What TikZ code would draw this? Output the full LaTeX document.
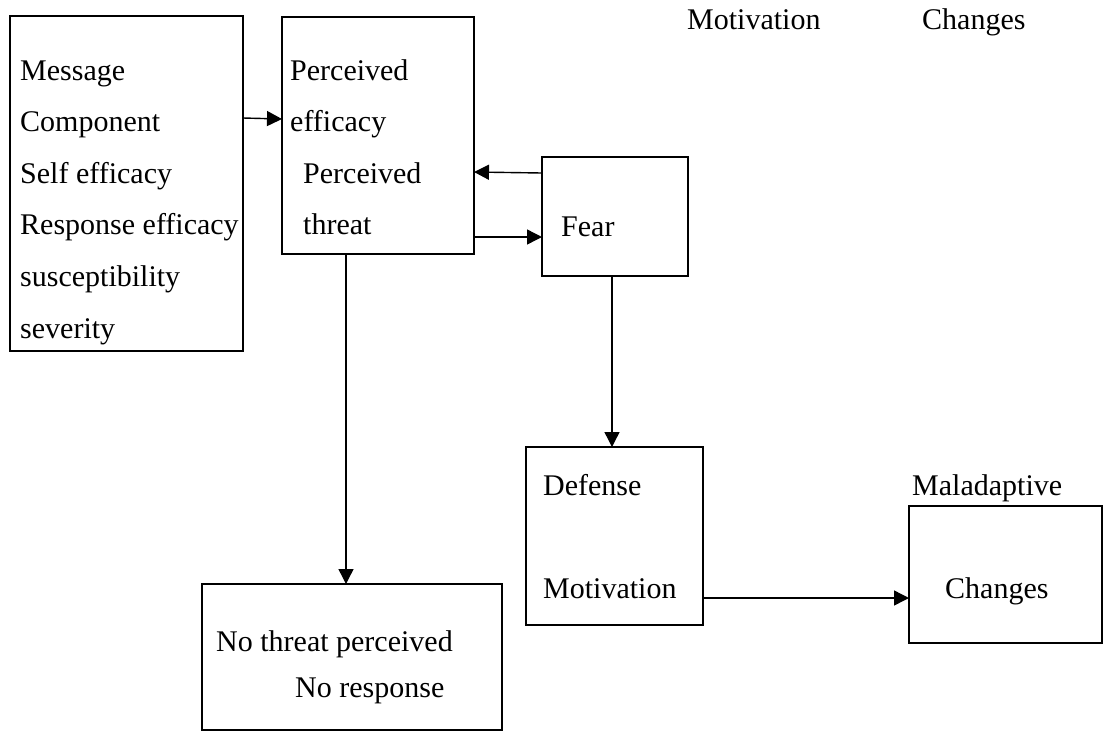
\documentclass[tikz,border=0pt]{standalone}
\usepackage{fontspec}
\setmainfont{Liberation Serif}
\usetikzlibrary{arrows.meta}
\begin{document}
\begin{tikzpicture}[x=1pt,y=-1pt,
  box/.style={draw,line width=1.6pt,inner sep=0pt,outer sep=0pt,rectangle},
  lbl/.style={anchor=base west,inner sep=0pt,font=\fontsize{30}{36}\selectfont},
  conn/.style={line width=1.4pt,-{Triangle[length=15pt,width=15pt]}}]
\useasboundingbox (0,0) rectangle (1109,732);

% boxes
\node[box,minimum width=233pt,minimum height=335pt] (msg) at (126.5,183.5) {};
\node[box,minimum width=192pt,minimum height=237pt] (perc) at (378,135.5) {};
\node[box,minimum width=146pt,minimum height=119pt] (fear) at (615,216.5) {};
\node[box,minimum width=177pt,minimum height=178pt] (def) at (614.5,536) {};
\node[box,minimum width=193pt,minimum height=137pt] (chg) at (1005.5,574.5) {};
\node[box,minimum width=300pt,minimum height=146pt] (none) at (352,657) {};

% message components
\node[lbl] (m1) at (20,80) {Message};
\node[lbl] (m2) at (20,131.6) {Component};
\node[lbl] (m3) at (20,183.2) {Self efficacy};
\node[lbl] (m4) at (20,234.8) {Response efficacy};
\node[lbl] (m5) at (20,286.4) {susceptibility};
\node[lbl] (m6) at (20,338) {severity};

% perceived efficacy / threat
\node[lbl] (p1) at (290,80) {Perceived};
\node[lbl] (p2) at (290,131.6) {efficacy};
\node[lbl] (p3) at (303,183.2) {Perceived};
\node[lbl] (p4) at (303,234.8) {threat};

\node[lbl] (f1) at (561,236) {Fear};

\node[lbl] (d1) at (543,495) {Defense};
\node[lbl] (d2) at (543,598) {Motivation};

\node[lbl] (c0) at (912,495) {Maladaptive};
\node[lbl] (c1) at (945,598) {Changes};

\node[lbl] (n1) at (216,651) {No threat perceived};
\node[lbl] (n2) at (295,697) {No response};

\node[lbl] (t1) at (687,29) {Motivation};
\node[lbl] (t2) at (922,29) {Changes};

% connectors
\draw[conn] (msg.east |- 0,118) -- (perc.west |- 0,119);
\draw[conn] (fear.west |- 0,173) -- (perc.east |- 0,172);
\draw[conn] (perc.east |- 0,237) -- (fear.west |- 0,237);
\draw[conn] (fear.south -| 612,0) -- (def.north -| 612,0);
\draw[conn] (perc.south -| 346,0) -- (none.north -| 346,0);
\draw[conn] (def.east |- 0,598) -- (chg.west |- 0,598);
\end{tikzpicture}
\end{document}
